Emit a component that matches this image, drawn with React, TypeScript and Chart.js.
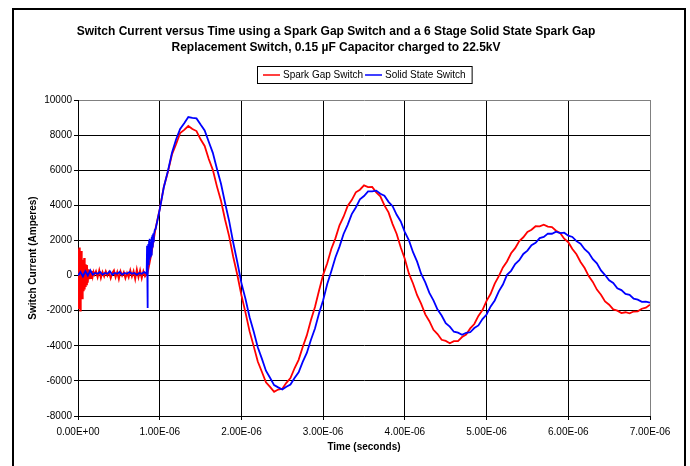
import React, { useEffect, useRef } from 'react';
import { Chart, registerables } from 'chart.js';

Chart.register(...registerables);

const chartTitle = [
  'Switch Current versus Time using a Spark Gap Switch and a 6 Stage Solid State Spark Gap',
  'Replacement Switch, 0.15 \u00B5F Capacitor charged to 22.5kV',
];
const seriesNames = ['Spark Gap Switch', 'Solid State Switch'];
const xAxisTitle = 'Time (seconds)';
const yAxisTitle = 'Switch Current (Amperes)';
const xTickLabels = ['0.00E+00', '1.00E-06', '2.00E-06', '3.00E-06', '4.00E-06', '5.00E-06', '6.00E-06', '7.00E-06'];

// time in microseconds, current in amperes
const redStartTimes = [
  0.0, 0.004, 0.008, 0.012, 0.016, 0.02, 0.024, 0.028, 0.032, 0.036, 0.04, 0.044, 0.048, 0.052, 0.056, 0.06,
  0.065, 0.07, 0.075, 0.08, 0.085, 0.09, 0.095, 0.1, 0.11, 0.12, 0.13, 0.14, 0.15, 0.16, 0.17, 0.18, 0.19, 0.2,
  0.22, 0.24, 0.26, 0.28, 0.3, 0.32, 0.34, 0.36, 0.38, 0.4, 0.42, 0.44, 0.46, 0.48, 0.5, 0.52, 0.54, 0.56, 0.58,
  0.6, 0.62, 0.64, 0.66, 0.68, 0.7, 0.72, 0.74, 0.76, 0.78, 0.8, 0.82, 0.84, 0.85, 0.875, 0.9,
];
const redStartAmps = [
  0, -1200, 1500, -1900, 1600, -1400, 1300, -2000, 1100, -1200, 1400, -900, 800, -1300, 700, -1000,
  900, -900, 1000, -800, 700, -600, 650, -500, 600, -400, 350, -200, 300, -150, 250, -50, 200, 50,
  250, -100, 300, -150, 200, -50, 250, 0, 200, -150, 150, 300, -100, 200, -200, 250, 0, 200, -150,
  150, -100, 300, -50, 250, -200, 350, -100, 300, -150, 250, -50, 100, 100, 700, 1300,
];

const blueStartTimes = [
  0.0, 0.03, 0.06, 0.09, 0.12, 0.15, 0.18, 0.21, 0.24, 0.27, 0.3, 0.33, 0.36, 0.39, 0.42, 0.45, 0.48, 0.51,
  0.54, 0.57, 0.6, 0.63, 0.66, 0.69, 0.72, 0.75, 0.78, 0.81, 0.84, 0.845, 0.85, 0.855, 0.86, 0.865, 0.87,
  0.875, 0.88, 0.885, 0.89, 0.895, 0.9, 0.905, 0.91, 0.915, 0.92, 0.925, 0.93, 0.94,
];
const blueStartAmps = [
  0, 200, -50, 250, 0, 300, 50, 150, 100, 200, 50, 150, 100, 250, 50, 150, 100, 200,
  50, 150, 100, 200, 100, 150, 50, 150, 100, 200, 100, 1700, -1850, 200, 1800, 600, 2000,
  900, 2100, 1100, 1900, 1200, 2200, 1300, 2300, 1600, 2400, 1900, 2300, 2600,
];

const waveTimes = [
  0.95, 1.0, 1.05, 1.1, 1.15, 1.2, 1.25, 1.3, 1.35, 1.4, 1.45, 1.5, 1.55, 1.6, 1.65, 1.7, 1.75, 1.8, 1.85, 1.9,
  1.95, 2.0, 2.05, 2.1, 2.15, 2.2, 2.25, 2.3, 2.35, 2.4, 2.45, 2.5, 2.55, 2.6, 2.65, 2.7, 2.75, 2.8, 2.85, 2.9,
  2.95, 3.0, 3.05, 3.1, 3.15, 3.2, 3.25, 3.3, 3.35, 3.4, 3.45, 3.5, 3.55, 3.6, 3.65, 3.7, 3.75, 3.8, 3.85, 3.9,
  3.95, 4.0, 4.05, 4.1, 4.15, 4.2, 4.25, 4.3, 4.35, 4.4, 4.45, 4.5, 4.55, 4.6, 4.65, 4.7, 4.75, 4.8, 4.85, 4.9,
  4.95, 5.0, 5.05, 5.1, 5.15, 5.2, 5.25, 5.3, 5.35, 5.4, 5.45, 5.5, 5.55, 5.6, 5.65, 5.7, 5.75, 5.8, 5.85, 5.9,
  5.95, 6.0, 6.05, 6.1, 6.15, 6.2, 6.25, 6.3, 6.35, 6.4, 6.45, 6.5, 6.55, 6.6, 6.65, 6.7, 6.75, 6.8, 6.85, 6.9,
  6.95, 7.0,
];

const redWaveAmps = [
  2700, 3780, 5050, 5900, 6900, 7480, 8120, 8300, 8520, 8350, 8230, 7760, 7380, 6640, 6020, 5080, 4260, 3180, 2230, 1060,
  30, -1120, -2110, -3180, -4020, -4900, -5480, -6080, -6340, -6620, -6490, -6450, -6110, -5840, -5280, -4800, -4070, -3410, -2550, -1790,
  -850, 40, 700, 1510, 2120, 2860, 3350, 3960, 4300, 4740, 4890, 5140, 5040, 5050, 4740, 4510, 4000, 3600, 2930, 2370,
  1600, 940, 110, -450, -1120, -1610, -2210, -2600, -3090, -3330, -3660, -3720, -3860, -3740, -3730, -3500, -3360, -3010, -2760, -2300,
  -1970, -1440, -1040, -460, -30, 460, 800, 1270, 1560, 1970, 2180, 2490, 2610, 2810, 2800, 2900, 2790, 2760, 2550, 2430,
  2100, 1900, 1510, 1210, 770, 430, -30, -360, -800, -1090, -1470, -1660, -1930, -2000, -2140, -2090, -2150, -2050, -2040, -1890,
  -1830, -1660,
];

const blueWaveAmps = [
  2650, 3760, 5030, 5950, 6990, 7750, 8350, 8680, 9030, 8980, 8950, 8600, 8270, 7620, 6990, 6080, 5230, 4130, 3100, 1870,
  760, -430, -1340, -2370, -3190, -4080, -4730, -5420, -5820, -6240, -6370, -6490, -6330, -6210, -5840, -5510, -4920, -4410, -3670, -3020,
  -2150, -1410, -480, 250, 1030, 1650, 2370, 2890, 3500, 3880, 4340, 4530, 4790, 4800, 4840, 4660, 4550, 4200, 3950, 3460,
  3080, 2480, 2000, 1330, 790, 90, -390, -990, -1410, -1940, -2280, -2710, -2910, -3200, -3250, -3370, -3260, -3230, -2990, -2840,
  -2480, -2220, -1760, -1420, -900, -510, 40, 270, 660, 870, 1230, 1420, 1730, 1870, 2130, 2200, 2390, 2380, 2500, 2420,
  2440, 2270, 2200, 1960, 1820, 1500, 1300, 930, 700, 290, 30, -270, -420, -720, -830, -1040, -1100, -1320, -1370, -1500,
  -1480, -1540,
];

const seriesColors = ['#FF0000', '#0000FF'];

const FONT = '"Liberation Sans", Arial, Helvetica, sans-serif';

function toPoints(ts: number[], vs: number[]) {
  const out: { x: number; y: number }[] = [];
  const n = Math.min(ts.length, vs.length);
  for (let i = 0; i < n; i++) out.push({ x: ts[i], y: vs[i] });
  return out;
}

const framePlugin = {
  id: 'outerFrame',
  beforeDraw(chart: any) {
    const ctx = chart.ctx;
    ctx.save();
    ctx.fillStyle = '#ffffff';
    ctx.fillRect(0, 0, chart.width, chart.height);
    ctx.strokeStyle = '#000000';
    ctx.lineWidth = 2;
    ctx.strokeRect(13, 9, 672, 480);
    ctx.restore();
  },
};

const boxLegendPlugin = {
  id: 'boxLegend',
  afterDraw(chart: any) {
    const ctx = chart.ctx;
    const area = chart.chartArea;
    const ds = chart.data.datasets;
    ctx.save();
    ctx.font = '10px ' + FONT;
    const lineLen = 17;
    const gap = 3;
    const pad = 6;
    const itemGap = 2;
    const widths = ds.map((d: any) => ctx.measureText(d.label).width);
    let total = pad * 2;
    widths.forEach((w: number, i: number) => {
      total += lineLen + gap + w + (i > 0 ? itemGap : 0);
    });
    const left = Math.round((area.left + area.right) / 2 - total / 2);
    const top = 66;
    const h = 17;
    ctx.fillStyle = '#ffffff';
    ctx.fillRect(left, top, total, h);
    ctx.strokeStyle = '#000000';
    ctx.lineWidth = 1;
    ctx.strokeRect(left + 0.5, top + 0.5, total, h);
    let x = left + pad;
    const cy = top + h / 2 + 0.5;
    ds.forEach((d: any, i: number) => {
      if (i > 0) x += itemGap;
      ctx.strokeStyle = d.borderColor;
      ctx.lineWidth = 1.5;
      ctx.beginPath();
      ctx.moveTo(x, cy);
      ctx.lineTo(x + lineLen, cy);
      ctx.stroke();
      x += lineLen + gap;
      ctx.fillStyle = '#000000';
      ctx.textBaseline = 'middle';
      ctx.textAlign = 'left';
      ctx.fillText(d.label, x, cy);
      x += widths[i];
    });
    ctx.restore();
  },
};

export default function App() {
  const canvasRef = useRef<HTMLCanvasElement | null>(null);

  useEffect(() => {
    if (!canvasRef.current) return;
    Chart.defaults.font.family = FONT;
    const chart = new Chart(canvasRef.current, {
      type: 'line',
      data: {
        datasets: [
          {
            label: seriesNames[0],
            data: [...toPoints(redStartTimes, redStartAmps), ...toPoints(waveTimes, redWaveAmps)],
            borderColor: seriesColors[0],
            backgroundColor: seriesColors[0],
            borderWidth: 1.8,
            pointRadius: 0,
            tension: 0,
            order: 2,
          },
          {
            label: seriesNames[1],
            data: [...toPoints(blueStartTimes, blueStartAmps), ...toPoints(waveTimes, blueWaveAmps)],
            borderColor: seriesColors[1],
            backgroundColor: seriesColors[1],
            borderWidth: 1.8,
            pointRadius: 0,
            tension: 0,
            order: 1,
          },
        ],
      },
      options: {
        responsive: false,
        maintainAspectRatio: false,
        animation: false,
        devicePixelRatio: 1,
        layout: { padding: { top: 14, left: 22, right: 40, bottom: 10 } },
        plugins: {
          legend: { display: false },
          tooltip: { enabled: false },
          title: {
            display: true,
            text: chartTitle,
            color: '#000000',
            font: { size: 12, weight: 'bold', lineHeight: 16 / 12, family: FONT },
            padding: { top: 10, bottom: 44 },
          },
        },
        scales: {
          x: {
            type: 'linear',
            min: 0,
            max: 7,
            ticks: {
              stepSize: 1,
              autoSkip: false,
              maxRotation: 0,
              padding: 6,
              color: '#000000',
              font: { size: 10, family: FONT },
              callback: (v: any) => xTickLabels[Math.round(Number(v))],
            },
            grid: {
              color: (c: any) => (c.tick && c.tick.value === 7 ? '#808080' : '#000000'),
              tickColor: '#000000',
              tickLength: 4,
              lineWidth: 1,
            },
            border: { color: '#000000', width: 1 },
            title: {
              display: true,
              text: xAxisTitle,
              color: '#000000',
              font: { size: 10, weight: 'bold', family: FONT },
              padding: { top: 0, bottom: 3 },
            },
            afterFit: (s: any) => {
              s.height = 40;
            },
          },
          y: {
            type: 'linear',
            min: -8000,
            max: 10000,
            ticks: {
              stepSize: 2000,
              padding: 2,
              color: '#000000',
              font: { size: 10, family: FONT },
              callback: (v: any) => String(v),
            },
            grid: {
              color: (c: any) => (c.tick && c.tick.value === 10000 ? '#808080' : '#000000'),
              tickColor: '#000000',
              tickLength: 4,
              lineWidth: 1,
            },
            border: { color: '#000000', width: 1 },
            title: {
              display: true,
              text: yAxisTitle,
              color: '#000000',
              font: { size: 10, weight: 'bold', family: FONT },
              padding: { top: 5, bottom: 0 },
            },
            afterFit: (s: any) => {
              s.width = 56;
            },
          },
        },
      } as any,
      plugins: [framePlugin, boxLegendPlugin],
    });
    return () => chart.destroy();
  }, []);

  return (
    <div style={{ position: 'absolute', left: 0, top: 0, width: 690, height: 466, background: '#ffffff' }}>
      <canvas ref={canvasRef} width={690} height={466} style={{ display: 'block', width: 690, height: 466 }} />
    </div>
  );
}
